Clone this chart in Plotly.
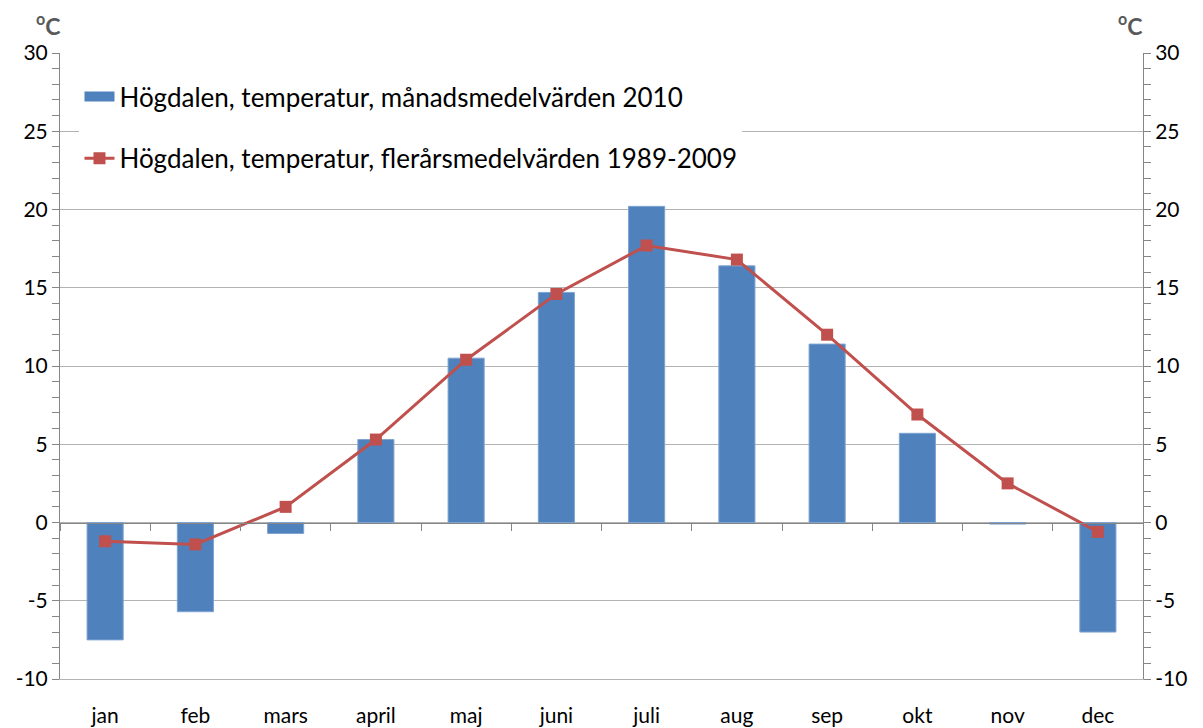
import plotly.graph_objects as go

months = ["jan", "feb", "mars", "april", "maj", "juni", "juli", "aug", "sep", "okt", "nov", "dec"]
temp_2010 = [-7.5, -5.7, -0.7, 5.3, 10.5, 14.7, 20.2, 16.4, 11.4, 5.7, -0.1, -7.0]
temp_1989_2009 = [-1.2, -1.4, 1.0, 5.3, 10.4, 14.6, 17.7, 16.8, 12.0, 6.9, 2.5, -0.6]
y_ticks = [-10, -5, 0, 5, 10, 15, 20, 25, 30]
y_tick_text = ["-10", "-5", "0", "5", "10", "15", "20", "25", "30"]

FONT = "Lato, Open Sans, sans-serif"
GRID = "#b3b3b3"
AXIS = "#868686"
BAR = "#4F81BD"
LINE = "#C0504D"

fig = go.Figure()
fig.add_trace(go.Bar(
    x=months, y=temp_2010,
    name="Högdalen, temperatur, månadsmedelvärden 2010",
    marker=dict(color=BAR, line=dict(color="#7ea3d0", width=1)),
    width=0.4, legendgroup="a", showlegend=False,
))
# legend entry for the bars, drawn as a wide rectangle swatch like the original
fig.add_trace(go.Scatter(
    x=months, y=[None] * 12, mode="lines",
    name="Högdalen, temperatur, månadsmedelvärden 2010",
    line=dict(color=BAR, width=15), legendgroup="a", hoverinfo="skip",
))
fig.add_trace(go.Scatter(
    x=months, y=temp_1989_2009, mode="lines+markers",
    name="Högdalen, temperatur, flerårsmedelvärden 1989-2009",
    line=dict(color=LINE, width=3),
    marker=dict(symbol="square", size=12, color=LINE),
    legendgroup="b", yaxis="y2",
))
# helper trace so that the category axis at y=0 is drawn
fig.add_trace(go.Scatter(x=months, y=[None] * 12, xaxis="x2", showlegend=False, hoverinfo="skip"))

yax = dict(range=[-10, 30], tickvals=y_ticks, ticktext=y_tick_text, showgrid=True, gridcolor=GRID, gridwidth=1,
           showline=True, linecolor=AXIS, linewidth=1, ticks="outside", ticklen=7, tickcolor=AXIS,
           minor=dict(dtick=1, ticks="outside", ticklen=7, tickcolor=AXIS, showgrid=False),
           tickfont=dict(size=21, color="black", family=FONT), zeroline=False, fixedrange=True,
           automargin=False)

# the page body has an 8px margin, so the figure is sized to fit the window
fig.update_layout(
    width=1195, height=720,
    margin=dict(l=52, r=60, t=45, b=49, autoexpand=False),
    plot_bgcolor="white", paper_bgcolor="white",
    font=dict(family=FONT, color="black"),
    barmode="overlay",
    xaxis=dict(type="category", categoryorder="array", categoryarray=months, range=[-0.5, 11.5],
               showline=True, linecolor=GRID, ticks="", showgrid=False, automargin=False,
               ticklabelstandoff=18, tickfont=dict(size=21, color="black", family=FONT)),
    xaxis2=dict(type="category", categoryorder="array", categoryarray=months, range=[-0.5, 11.5],
                overlaying="x", anchor="free", position=0.25, side="bottom", automargin=False,
                tickson="boundaries", ticks="outside", ticklen=7, tickcolor=AXIS,
                showticklabels=False, showline=True, linecolor=AXIS, showgrid=False),
    yaxis=yax,
    yaxis2=dict(yax, overlaying="y", side="right", showgrid=False),
    legend=dict(x=0.018, y=0.968, xanchor="left", yanchor="top", bgcolor="white",
                font=dict(size=26, family=FONT, color="black"), traceorder="grouped",
                tracegroupgap=25, itemwidth=30),
    showlegend=True,
)
fig.add_annotation(text="<b><sup>o</sup>C</b>", xref="paper", yref="paper",
                   x=0.0, y=1.0, xanchor="center", yanchor="bottom",
                   xshift=-12, yshift=11, showarrow=False,
                   font=dict(size=23, color="#595959", family=FONT))
fig.add_annotation(text="<b><sup>o</sup>C</b>", xref="paper", yref="paper",
                   x=1.0, y=1.0, xanchor="center", yanchor="bottom",
                   xshift=-13, yshift=11, showarrow=False,
                   font=dict(size=23, color="#595959", family=FONT))

fig.write_html("out.html")
